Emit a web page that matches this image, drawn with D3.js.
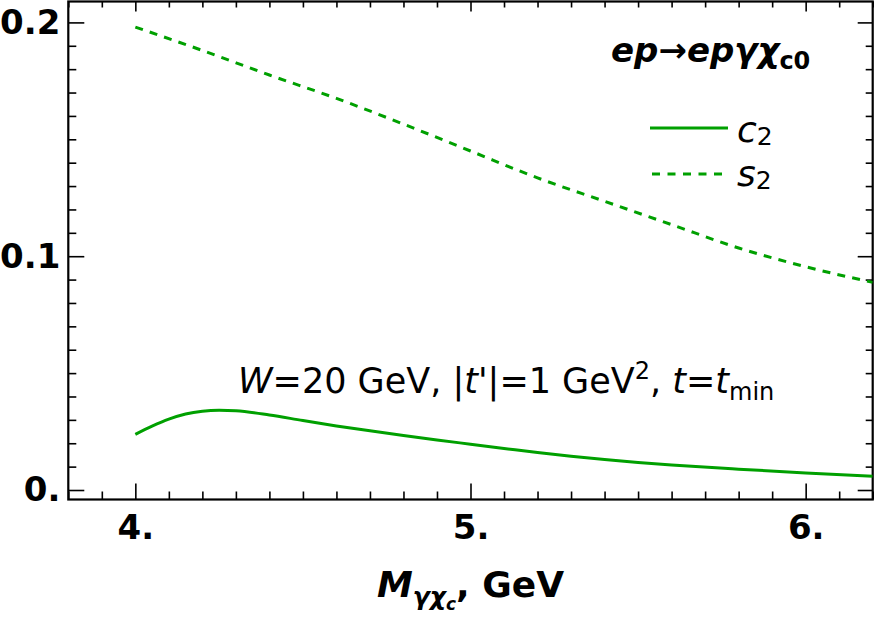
<!DOCTYPE html>
<html><head><meta charset="utf-8">
<script src="https://cdn.jsdelivr.net/npm/d3@7"></script>
<style>body{margin:0;background:#fff}svg{display:block}text{font-family:"DejaVu Sans",sans-serif}</style>
</head><body><svg id="c" width="880" height="617"></svg>
<script>
// ---- data ----
const xMajorTicks = [4, 5, 6];
const xTickLabels = ["4.", "5.", "6."];
const yMajorTicks = [0, 0.1, 0.2];
const yTickLabels = ["0.", "0.1", "0.2"];

const c2Mass = [4.0, 4.05, 4.1, 4.15, 4.2, 4.25, 4.3, 4.4, 4.5, 4.6, 4.7, 4.8, 4.9, 5.0, 5.1, 5.2, 5.3, 5.4, 5.5, 5.6, 5.8, 6.0, 6.2];
const c2Values = [0.0238, 0.0273, 0.0303, 0.0325, 0.0337, 0.0341, 0.0339, 0.0321, 0.0297, 0.0274, 0.0253, 0.0233, 0.0214, 0.0196, 0.0178, 0.0160, 0.0144, 0.0130, 0.0118, 0.0107, 0.0089, 0.0073, 0.0059];

const s2Mass = [4.0, 4.2, 4.4, 4.6, 4.8, 5.0, 5.2, 5.4, 5.6, 5.8, 6.0, 6.2];
const s2Values = [0.198, 0.188, 0.1775, 0.1675, 0.1565, 0.145, 0.1335, 0.1235, 0.1135, 0.1035, 0.0955, 0.0888];

const seriesNames = ["c", "s"];
const green = "#00a000";

// ---- layout ----
const L = 68.3, R = 872.7, T = 1.5, B = 499.5;
const svg = d3.select("#c");
const x = d3.scaleLinear().domain([3.8, 6.2]).range([L, R]);
const y = d3.scaleLinear().domain([-0.00406, 0.20894]).range([B, T]);

const xMinor = d3.range(38, 63).map(d => d / 10).filter(d => Math.abs(d - Math.round(d)) > 1e-6);
const yMinor = d3.range(0, 21).filter(d => d % 10 !== 0).map(d => d / 100);

function styleAxis(g) {
  g.select(".domain").remove();
  g.selectAll(".tick line").attr("stroke", "#000").attr("stroke-width", 1.6);
}
function styleLabels(g) {
  g.selectAll("text").attr("font-size", 34).attr("font-weight", "bold").attr("fill", "#000").attr("font-family", "DejaVu Sans");
}

// bottom
svg.append("g").attr("transform", `translate(0,${B})`)
  .call(d3.axisBottom(x).tickValues(xMajorTicks).tickSize(-16).tickPadding(15)
    .tickFormat((d, i) => xTickLabels[i]))
  .call(styleAxis).call(styleLabels);
svg.append("g").attr("transform", `translate(0,${B})`)
  .call(d3.axisBottom(x).tickValues(xMinor).tickSize(-8).tickFormat(""))
  .call(styleAxis);
// top
svg.append("g").attr("transform", `translate(0,${T})`)
  .call(d3.axisTop(x).tickValues(xMajorTicks).tickSize(-10).tickFormat(""))
  .call(styleAxis);
svg.append("g").attr("transform", `translate(0,${T})`)
  .call(d3.axisTop(x).tickValues(xMinor).tickSize(-6).tickFormat(""))
  .call(styleAxis);
// left
svg.append("g").attr("transform", `translate(${L},0)`)
  .call(d3.axisLeft(y).tickValues(yMajorTicks).tickSize(-16).tickPadding(8)
    .tickFormat((d, i) => yTickLabels[i]))
  .call(styleAxis).call(styleLabels);
svg.append("g").attr("transform", `translate(${L},0)`)
  .call(d3.axisLeft(y).tickValues(yMinor).tickSize(-8).tickFormat(""))
  .call(styleAxis);
// right
svg.append("g").attr("transform", `translate(${R},0)`)
  .call(d3.axisRight(y).tickValues(yMajorTicks).tickSize(-15).tickFormat(""))
  .call(styleAxis);
svg.append("g").attr("transform", `translate(${R},0)`)
  .call(d3.axisRight(y).tickValues(yMinor).tickSize(-7).tickFormat(""))
  .call(styleAxis);

// frame
svg.append("rect").attr("x", L).attr("y", T).attr("width", R - L).attr("height", B - T)
  .attr("fill", "none").attr("stroke", "#000").attr("stroke-width", 2.2);

// clip
svg.append("clipPath").attr("id", "clip").append("rect")
  .attr("x", L).attr("y", T).attr("width", R - L).attr("height", B - T);

const line = d3.line().x(d => x(d[0])).y(d => y(d[1])).curve(d3.curveMonotoneX);
svg.append("path").attr("clip-path", "url(#clip)")
  .datum(c2Mass.map((m, i) => [m, c2Values[i]]))
  .attr("d", line).attr("fill", "none").attr("stroke", green).attr("stroke-width", 3);
svg.append("path").attr("clip-path", "url(#clip)")
  .datum(s2Mass.map((m, i) => [m, s2Values[i]]))
  .attr("d", line).attr("fill", "none").attr("stroke", green).attr("stroke-width", 3)
  .attr("stroke-dasharray", "8,7.2");

// legend
svg.append("line").attr("x1", 650).attr("x2", 728).attr("y1", 128).attr("y2", 128)
  .attr("stroke", green).attr("stroke-width", 3);
svg.append("line").attr("x1", 652).attr("x2", 722).attr("y1", 174).attr("y2", 174)
  .attr("stroke", green).attr("stroke-width", 3).attr("stroke-dasharray", "8,7.5");
[[seriesNames[0], 142], [seriesNames[1], 186]].forEach(([n, by]) => {
  const t = svg.append("text").attr("x", 737).attr("y", by).attr("font-size", 36);
  t.append("tspan").attr("font-style", "italic").text(n);
  t.append("tspan").attr("font-size", 25).attr("dy", 3).text("2");
});

// process label
{
  const t = svg.append("text").attr("x", 611).attr("y", 62).attr("font-size", 34)
    .attr("font-weight", "bold").attr("font-style", "italic");
  t.append("tspan").text("ep→epγχ");
  t.append("tspan").attr("font-size", 24).attr("dy", 7).attr("font-style", "normal").text("c0");
}

// kinematics label
{
  const t = svg.append("text").attr("x", 238).attr("y", 393).attr("font-size", 35);
  t.append("tspan").attr("font-style", "italic").text("W");
  t.append("tspan").text("=20 GeV, |");
  t.append("tspan").attr("font-style", "italic").text("t");
  t.append("tspan").text("'|=1 GeV");
  t.append("tspan").attr("font-size", 24).attr("dy", -14).text("2");
  t.append("tspan").attr("dy", 14).text(", ");
  t.append("tspan").attr("font-style", "italic").text("t");
  t.append("tspan").text("=");
  t.append("tspan").attr("font-style", "italic").text("t");
  t.append("tspan").attr("font-size", 24).attr("dy", 7).text("min");
}

// axis title
{
  const t = svg.append("text").attr("x", (L + R) / 2).attr("y", 597).attr("font-size", 36)
    .attr("font-weight", "bold").attr("text-anchor", "middle");
  t.append("tspan").attr("font-style", "italic").text("M");
  t.append("tspan").attr("font-style", "italic").attr("font-size", 25).attr("dy", 8).text("γχ");
  t.append("tspan").attr("font-style", "italic").attr("font-size", 17).attr("dy", 5).text("c");
  t.append("tspan").attr("dy", -13).text(", GeV");
}
</script></body></html>
